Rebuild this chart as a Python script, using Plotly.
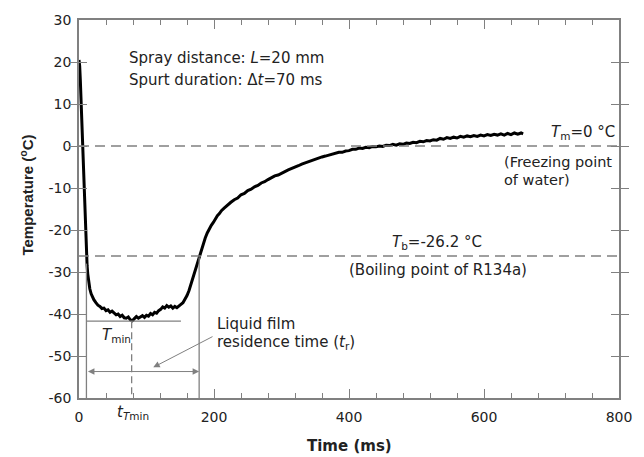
import plotly.graph_objects as go

# ---- data ----
time_ms = [0, 1, 2, 3, 4, 5, 6, 7, 8, 9, 10, 11, 12, 13, 14, 15, 16, 18, 20, 22, 25, 28, 31, 34, 37,
           40, 43, 46, 49, 52, 55, 58, 61, 64, 67, 70, 73, 76, 79, 82, 85, 88, 91, 94, 97,
           100, 103, 106, 109, 112, 115, 118, 121, 124, 127, 130, 133, 136, 139, 142, 145, 148,
           151, 154, 157, 160, 163, 166, 169, 172, 175, 178, 181, 184, 187, 190, 193, 196, 199,
           202, 205, 208, 211, 215, 220, 225, 230, 235, 240, 245, 250, 255, 260, 265, 270, 275,
           280, 285, 290, 295, 300, 305, 310, 315, 320, 325, 330, 335, 340, 345, 350, 355, 360,
           365, 370, 375, 380, 385, 390, 395, 400, 405, 410, 415, 420, 425, 430, 435, 440, 445,
           450, 455, 460, 465, 470, 475, 480, 485, 490, 495, 500, 505, 510, 515, 520, 525, 530,
           535, 540, 545, 550, 555, 560, 565, 570, 575, 580, 585, 590, 595, 600, 605, 610, 615,
           620, 625, 630, 635, 640, 645, 650, 655, 658]
temp_c = [20.5, 19.0, 15.5, 11.0, 6.0, 1.5, -3.5, -8.5, -13.5, -18.0, -22.0, -25.5, -28.5, -30.5,
          -32.0, -33.2, -34.0, -35.2, -36.0, -36.6, -37.3, -37.9, -38.2, -38.7, -38.6,
          -39.2, -39.0, -39.6, -39.3, -39.8, -40.2, -40.0, -40.6, -40.3, -40.9, -41.0, -40.7,
          -41.4, -41.6, -41.1, -40.6, -41.0, -40.7, -40.4, -40.8,
          -40.3, -40.5, -39.9, -40.2, -39.6, -39.8, -39.2, -38.9, -38.3, -38.6, -38.0, -38.4,
          -38.1, -38.6, -38.2, -38.5, -38.0,
          -37.7, -37.3, -36.5, -35.6, -34.4, -32.8, -31.3, -29.8, -28.2, -26.4, -24.8, -23.2,
          -21.9, -20.7, -19.7, -18.9, -18.2,
          -17.3, -16.6, -16.1, -15.4, -14.8, -14.0, -13.4, -12.8, -12.4, -11.6, -11.3, -10.6,
          -10.3, -9.7, -9.4, -8.8, -8.5,
          -8.0, -7.6, -7.1, -6.9, -6.4, -6.1, -5.7, -5.4, -5.0, -4.7, -4.3, -4.0, -3.7, -3.5,
          -3.1, -2.9, -2.6,
          -2.4, -2.2, -1.9, -1.8, -1.5, -1.5, -1.2, -1.1, -0.8, -0.8, -0.5, -0.6, -0.3, -0.4,
          -0.1, -0.2, 0.0,
          -0.1, 0.2, 0.1, 0.4, 0.2, 0.5, 0.4, 0.7, 0.6, 0.9, 0.8, 1.1, 1.0, 1.3, 1.2, 1.5, 1.4,
          1.8, 1.6, 2.0, 1.8, 2.1, 1.9, 2.3, 2.1, 2.4, 2.2, 2.5, 2.3, 2.6, 2.4, 2.7, 2.5, 2.8,
          2.6, 2.9, 2.6, 3.0, 2.7, 3.1, 2.8, 3.1, 2.9]

x_ticks = [0, 200, 400, 600, 800]
y_ticks = [-60, -50, -40, -30, -20, -10, 0, 10, 20, 30]
y_tick_labels = ["-60", "-50", "-40", "-30", "-20", "-10", "0", "10", "20", "30"]

T_melt = 0.0          # freezing point of water
T_boil = -26.2        # boiling point of R134a
T_min = -41.7
t_Tmin = 78
t_film_start = 11
t_film_end = 178
T_film_start_top = -28.0
T_film_end_top = -26.5
T_min_line_end = 151
y_span_arrow = -53.7

GRAY = "#808080"
TXT = "#222222"
FONT = "DejaVu Sans"

fig = go.Figure()
fig.add_trace(go.Scatter(x=time_ms, y=temp_c, mode="lines",
                         line=dict(color="black", width=3), showlegend=False,
                         hoverinfo="skip"))
# empty trace so the top (mirror) axis with minor ticks is drawn
fig.add_trace(go.Scatter(x=[], y=[], xaxis="x2", showlegend=False, hoverinfo="skip"))

shapes = [
    dict(type="line", xref="paper", x0=0, x1=1, yref="y", y0=T_melt, y1=T_melt,
         line=dict(color=GRAY, width=1.5, dash="10px,6px")),
    dict(type="line", xref="paper", x0=0, x1=1, yref="y", y0=T_boil, y1=T_boil,
         line=dict(color=GRAY, width=1.5, dash="10px,6px")),
    dict(type="line", xref="x", x0=t_film_start, x1=t_film_start, yref="y", y0=-60,
         y1=T_film_start_top, line=dict(color=GRAY, width=1.3)),
    dict(type="line", xref="x", x0=t_film_end, x1=t_film_end, yref="y", y0=-60,
         y1=T_film_end_top, line=dict(color=GRAY, width=1.3)),
    dict(type="line", xref="x", x0=t_film_start, x1=T_min_line_end, yref="y", y0=T_min,
         y1=T_min, line=dict(color=GRAY, width=1.3)),
    dict(type="line", xref="x", x0=t_Tmin, x1=t_Tmin, yref="y", y0=T_min, y1=-60,
         line=dict(color=GRAY, width=1.3, dash="7px,4px")),
]

def txt(x, y, s, xanchor="left", size=15, **kw):
    return dict(x=x, y=y, xref="x", yref="y", text=s, showarrow=False, xanchor=xanchor,
                yanchor="middle", font=dict(family=FONT, size=size, color=TXT), **kw)

annotations = [
    txt(71, 20.9, "Spray distance: <i>L</i>=20 mm"),
    txt(71, 15.7, "Spurt duration: Δ<i>t</i>=70 ms"),
    txt(697, 3.3, "<i>T</i><sub>m</sub>=0 °C"),
    txt(627, -3.7, "(Freezing point", size=14.5),
    txt(627, -8.0, "of water)", size=14.5),
    txt(530, -23.0, "<i>T</i><sub>b</sub>=-26.2 °C", xanchor="center"),
    txt(532, -29.6, "(Boiling point of R134a)", xanchor="center"),
    txt(201, -42.4, "Liquid film"),
    txt(201, -46.9, "residence time (<i>t</i><sub>r</sub>)"),
    txt(55, -45.2, "<i>T</i><sub>min</sub>", xanchor="center"),
    dict(x=80, y=-0.039, xref="x", yref="paper", text="<i>t</i><sub><i>T</i>min</sub>",
         showarrow=False, xanchor="center", yanchor="middle",
         font=dict(family=FONT, size=15, color=TXT)),
    # double arrow spanning the residence time
    dict(x=t_film_end, y=y_span_arrow, ax=t_film_start, ay=y_span_arrow, xref="x", yref="y",
         axref="x", ayref="y", text="", showarrow=True, arrowside="end+start",
         arrowhead=2, startarrowhead=2, arrowsize=1.3, startarrowsize=1.3,
         arrowwidth=1, arrowcolor=GRAY),
    # pointer from the label
    dict(x=110, y=-52.7, ax=200, ay=-45.2, xref="x", yref="y", axref="x", ayref="y",
         text="", showarrow=True, arrowhead=2, arrowsize=1.3, arrowwidth=1, arrowcolor=GRAY),
    # axis titles
    dict(x=-0.0978, y=0.536, xref="paper", yref="paper", text="<b>Temperature (<sup>o</sup>C)</b>",
         showarrow=False, textangle=-90, xanchor="center", yanchor="middle",
         font=dict(family="Liberation Sans", size=15, color=TXT)),
    dict(x=0.5, y=-0.128, xref="paper", yref="paper", text="<b>Time (ms)</b>",
         showarrow=False, xanchor="center", yanchor="middle",
         font=dict(family=FONT, size=15, color=TXT)),
]

tickfont = dict(family=FONT, size=14, color=TXT)
minor_x = dict(dtick=40, tick0=0, ticks="inside", ticklen=5, tickcolor=GRAY,
               tickwidth=1, showgrid=False)

fig.update_layout(
    width=644, height=457,
    margin=dict(l=79, r=13, t=14, b=59),
    paper_bgcolor="white", plot_bgcolor="white",
    xaxis=dict(range=[0, 800], tickvals=x_ticks, ticklen=9, tickwidth=1.3,
               showline=True, linecolor=GRAY, linewidth=1.5, mirror=False,
               ticks="inside", tickcolor=GRAY, showgrid=False, zeroline=False,
               tickfont=tickfont, ticklabelstandoff=5, minor=minor_x),
    xaxis2=dict(range=[0, 800], tickvals=x_ticks, ticklen=9, tickwidth=1.3,
                overlaying="x", side="top", showticklabels=False,
                showline=True, linecolor=GRAY, linewidth=1.5,
                ticks="inside", tickcolor=GRAY, showgrid=False, zeroline=False,
                minor=minor_x),
    yaxis=dict(range=[-60, 30], tickvals=y_ticks, ticktext=y_tick_labels, ticklen=8,
               tickwidth=1.3, showline=True, linecolor=GRAY, linewidth=1.5,
               mirror="allticks", ticks="inside", tickcolor=GRAY, showgrid=False,
               zeroline=False, tickfont=tickfont, ticklabelstandoff=3),
    shapes=shapes, annotations=annotations, showlegend=False,
)

fig.write_html("out.html")
